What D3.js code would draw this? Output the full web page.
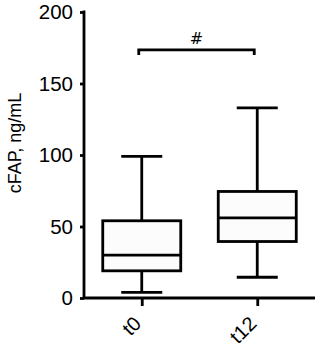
<!DOCTYPE html>
<html><head><meta charset="utf-8">
<script src="https://cdn.jsdelivr.net/npm/d3@7"></script>
<style>html,body{margin:0;padding:0;background:#fff;}svg{display:block;}</style>
</head><body>
<script>
const categories = ["t0", "t12"];
const mins = [4, 14.5];
const q1s = [19, 39.5];
const medians = [30, 56];
const q3s = [54, 74.5];
const maxs = [99, 133];
const yTicks = [0, 50, 100, 150, 200];
const yLabel = "cFAP, ng/mL";
const sigLabel = "#";
const sigValue = 173.5;

const W = 319, H = 350;
const svg = d3.select("body").append("svg").attr("width", W).attr("height", H);
const font = "'Liberation Sans', Arial, sans-serif";
const lw = 2.8;

const x = d3.scalePoint().domain(categories).range([84, 315]).padding(0.5);
const y = d3.scaleLinear().domain([0, 200]).range([298, 12]);

const boxW = 78, capW = 41;

// y axis
const ya = svg.append("g").attr("transform", "translate(84,0)")
  .call(d3.axisLeft(y).tickValues(yTicks).tickSize(4).tickPadding(7).tickSizeOuter(0));
ya.select(".domain").attr("stroke", "#000").attr("stroke-width", lw).attr("d", `M0,${y(200)-1.4}V${y(0)}`);
ya.selectAll(".tick line").attr("stroke", "#000").attr("stroke-width", lw);
ya.selectAll(".tick text").attr("font-family", font).attr("font-size", 20.5).attr("fill", "#000");

// x axis
const xa = svg.append("g").attr("transform", `translate(0,${y(0)})`)
  .call(d3.axisBottom(x).tickSize(8).tickSizeOuter(0));
xa.select(".domain").attr("stroke", "#000").attr("stroke-width", lw).attr("d", `M84,0H315`);
xa.selectAll(".tick line").attr("stroke", "#000").attr("stroke-width", lw);
xa.selectAll(".tick text").attr("font-family", font).attr("font-size", 20).attr("fill", "#000")
  .attr("text-anchor", "end").attr("dy", null).attr("y", null)
  .attr("transform", "translate(0,27) rotate(-45)");

// y label
svg.append("text").attr("transform", `translate(20.5,${(y(0)+y(200))/2 - 12}) rotate(-90)`)
  .attr("text-anchor", "middle").attr("font-family", font).attr("font-size", 18).text(yLabel);

// boxes
const g = svg.append("g");
categories.forEach((c, i) => {
  const cx = x(c);
  g.append("line").attr("x1", cx).attr("x2", cx).attr("y1", y(maxs[i])).attr("y2", y(q3s[i]))
    .attr("stroke", "#000").attr("stroke-width", lw);
  g.append("line").attr("x1", cx).attr("x2", cx).attr("y1", y(q1s[i])).attr("y2", y(mins[i]))
    .attr("stroke", "#000").attr("stroke-width", lw);
  g.append("line").attr("x1", cx - capW/2).attr("x2", cx + capW/2).attr("y1", y(maxs[i])).attr("y2", y(maxs[i]))
    .attr("stroke", "#000").attr("stroke-width", lw);
  g.append("line").attr("x1", cx - capW/2).attr("x2", cx + capW/2).attr("y1", y(mins[i])).attr("y2", y(mins[i]))
    .attr("stroke", "#000").attr("stroke-width", lw);
  g.append("rect").attr("x", cx - boxW/2).attr("width", boxW)
    .attr("y", y(q3s[i])).attr("height", y(q1s[i]) - y(q3s[i]))
    .attr("fill", "#fcfcfc").attr("stroke", "#000").attr("stroke-width", lw);
  g.append("line").attr("x1", cx - boxW/2).attr("x2", cx + boxW/2).attr("y1", y(medians[i])).attr("y2", y(medians[i]))
    .attr("stroke", "#000").attr("stroke-width", lw);
});

// significance bracket
const bx1 = x(categories[0]) - 3, bx2 = x(categories[1]) - 3, by = y(sigValue);
svg.append("path").attr("d", `M${bx1},${by+5}V${by}H${bx2}V${by+5}`)
  .attr("fill", "none").attr("stroke", "#000").attr("stroke-width", lw);
svg.append("text").attr("x", (bx1 + bx2)/2).attr("y", by - 6).attr("text-anchor", "middle")
  .attr("font-family", "'DejaVu Sans', sans-serif").attr("font-size", 16).text(sigLabel);
</script>
</body></html>
